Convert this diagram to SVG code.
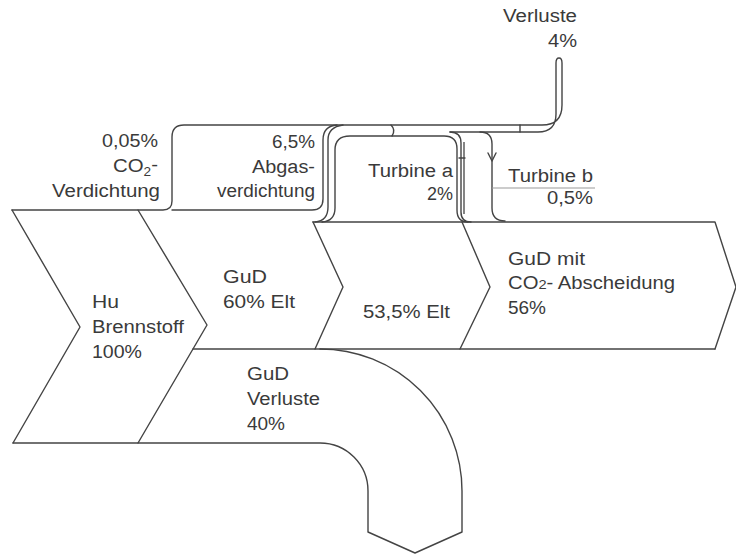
<svg xmlns="http://www.w3.org/2000/svg" width="736" height="555" viewBox="0 0 736 555">
<style>
.ln{fill:none;stroke:#444;stroke-width:1.4;stroke-linejoin:round;stroke-linecap:round}
.th{fill:none;stroke:#666;stroke-width:1.6}
.sep{fill:none;stroke:#999;stroke-width:1}
text{font-family:"Liberation Sans",Arial,sans-serif;font-size:18px;fill:#3a3a3a}
</style>
<rect width="736" height="555" fill="#fff"/>
<g id="bands">
<path class="ln" d="M12,210 L80,327 L13,443"/>
<path class="ln" d="M138,210 L207,325 L138,443"/>
<path class="ln" d="M313,222 L343,287 L315,349"/>
<path class="ln" d="M462,222 L490,287 L460,349"/>
<path class="ln" d="M313,222 H715 L736,287 L715,349"/>
<path class="ln" d="M193,349 H715"/>
<path class="ln" d="M320,349 A142,142 0 0 1 462,491 V532 L415,553 L368,532 V491 A48,48 0 0 0 320,443 H13"/>
</g>
<g id="connectors">
<path class="ln" d="M12,210 H163 Q172,210 172,201 V137 Q172,125 184,125 H542 Q562,125 562,105 V63 Q562,58 559,58 Q556,58 556,63 V114 Q556,132 538,132 H450"/>
<path class="ln" d="M172,210 H312 Q323,210 323,199 V140 Q323,126 337,125"/>
<path class="ln" d="M315,222 Q328,221 328,207 V140 Q328,127 343,125"/>
<path class="ln" d="M322,222 Q335,221 335,208 V150 Q335,136 350,136 H444 Q457,136 457,149 V210 Q457,222 468,222"/>
<path class="ln" d="M450,132 Q461,132 461,143 V212 Q461,222 471,222"/>
<path class="th" d="M464,142 V214"/>
<path class="ln" d="M459,158 H465"/>
<path class="ln" d="M480,132 Q492,132 492,144 V208 Q492,221 505,221"/>
<path class="ln" d="M488,153 L492,161 L496,153"/>
<path class="sep" d="M492,188 H595"/>
<path class="ln" d="M391,125 Q396,130 392,136"/>
<path class="ln" d="M520,125 V132"/>
</g>
<g id="verluste">
<text x="503" y="22" textLength="74" lengthAdjust="spacingAndGlyphs">Verluste</text>
<text x="548" y="47" textLength="29" lengthAdjust="spacingAndGlyphs">4%</text>
</g>
<g id="co2-verdichtung">
<text x="102" y="147" textLength="56" lengthAdjust="spacingAndGlyphs">0,05%</text>
<text x="113" y="172" textLength="45" lengthAdjust="spacingAndGlyphs">CO<tspan font-size="12" dy="4">2</tspan><tspan dy="-5">-</tspan></text>
<text x="52" y="197" textLength="108" lengthAdjust="spacingAndGlyphs">Verdichtung</text>
</g>
<g id="abgasverdichtung">
<text x="272" y="148" textLength="43" lengthAdjust="spacingAndGlyphs">6,5%</text>
<text x="252" y="173" textLength="63" lengthAdjust="spacingAndGlyphs">Abgas-</text>
<text x="217" y="197" textLength="98" lengthAdjust="spacingAndGlyphs">verdichtung</text>
</g>
<g id="turbine-a">
<text x="368" y="177" textLength="85" lengthAdjust="spacingAndGlyphs">Turbine a</text>
<text x="427" y="200" textLength="26" lengthAdjust="spacingAndGlyphs">2%</text>
</g>
<g id="turbine-b">
<text x="508" y="182" textLength="85" lengthAdjust="spacingAndGlyphs">Turbine b</text>
<text x="547" y="204" textLength="46" lengthAdjust="spacingAndGlyphs">0,5%</text>
</g>
<g id="hu-brennstoff">
<text x="92" y="308" textLength="27" lengthAdjust="spacingAndGlyphs">Hu</text>
<text x="92" y="333" textLength="92" lengthAdjust="spacingAndGlyphs">Brennstoff</text>
<text x="92" y="358" textLength="50" lengthAdjust="spacingAndGlyphs">100%</text>
</g>
<g id="gud-60-elt">
<text x="223" y="283" textLength="44" lengthAdjust="spacingAndGlyphs">GuD</text>
<text x="223" y="308" textLength="72" lengthAdjust="spacingAndGlyphs">60% Elt</text>
</g>
<g id="elt-53-5">
<text x="363" y="318" textLength="87" lengthAdjust="spacingAndGlyphs">53,5% Elt</text>
</g>
<g id="gud-co2-abscheidung">
<text x="508" y="265" textLength="77" lengthAdjust="spacingAndGlyphs">GuD mit</text>
<text x="508" y="289" textLength="167" lengthAdjust="spacingAndGlyphs">CO<tspan font-size="13">2</tspan>- Abscheidung</text>
<text x="508" y="314" textLength="38" lengthAdjust="spacingAndGlyphs">56%</text>
</g>
<g id="gud-verluste">
<text x="247" y="380" textLength="42" lengthAdjust="spacingAndGlyphs">GuD</text>
<text x="247" y="405" textLength="73" lengthAdjust="spacingAndGlyphs">Verluste</text>
<text x="247" y="430" textLength="38" lengthAdjust="spacingAndGlyphs">40%</text>
</g>
</svg>
